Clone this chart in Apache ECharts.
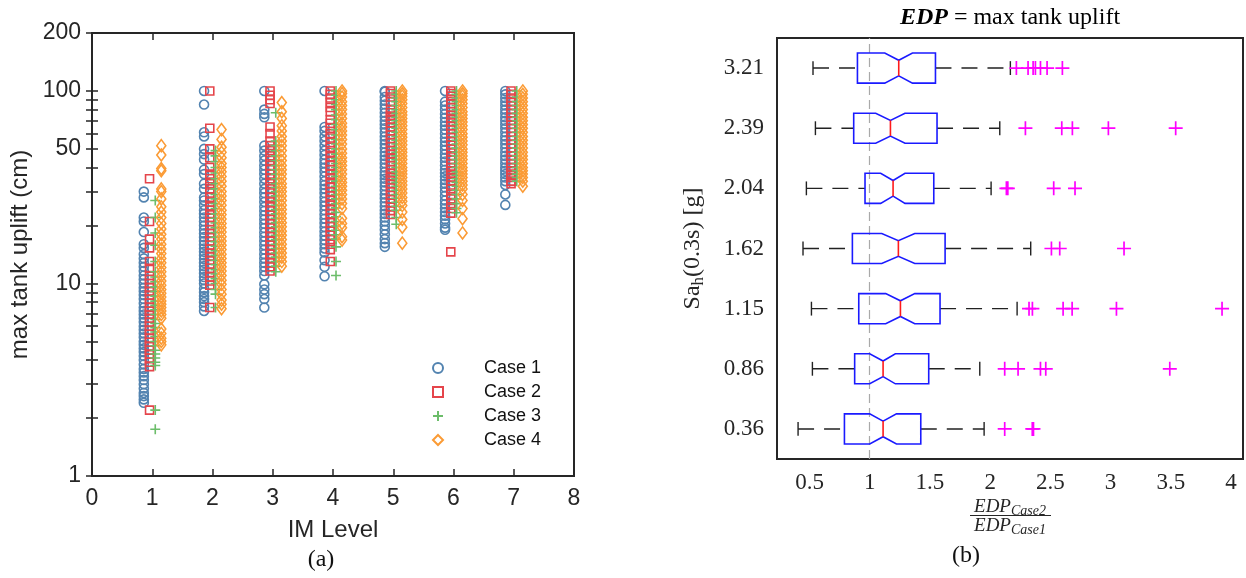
<!DOCTYPE html>
<html>
<head>
<meta charset="utf-8">
<script src="https://cdn.jsdelivr.net/npm/echarts@6/dist/echarts.min.js"></script>
<style>
  html, body { margin: 0; padding: 0; background: #fff; }
  #chart { width: 1246px; height: 578px; }
</style>
</head>
<body>
<div id="chart"></div>
<script>
// ---------- (a) max tank uplift (cm), one inner list per IM level 1..7 ----------
const imLevels = [1, 2, 3, 4, 5, 6, 7];
const imTicks = [0, 1, 2, 3, 4, 5, 6, 7, 8];
const upliftLabels = [1, 10, 50, 100, 200];
const upliftMinorTicks = [1, 2, 3, 4, 5, 6, 7, 8, 9, 10, 20, 30, 40, 50, 60, 70, 80, 90, 100, 200];
const caseNames = ['Case 1', 'Case 2', 'Case 3', 'Case 4'];

const case1 = [
  [30, 28, 22, 21, 18.5, 16, 15.3, 14.2, 13.5, 12.8, 12.2, 11.6, 11, 10.5, 10, 9.5, 9.1, 8.7, 8.3, 7.9, 7.5, 7.2, 6.9, 6.6, 6.3, 6.0, 5.75, 5.5, 5.25, 5.0, 4.8, 4.6, 4.4, 4.2, 4.0, 3.8, 3.6, 3.45, 3.3, 3.15, 3.0, 2.85, 2.7, 2.6, 2.5, 2.4],
  [100, 85, 61, 58, 50, 47, 44, 39, 37, 33, 31, 28, 27, 25.5, 24, 23, 22, 21, 20, 19, 18.2, 17.4, 16.6, 15.9, 15.2, 14.6, 14, 13.4, 12.8, 12.3, 11.8, 11.3, 10.8, 10.4, 10, 9.4, 9, 8.6, 8.3, 8.0, 7.6, 7.2],
  [100, 80, 76, 73, 52, 49, 46, 43.5, 41, 39, 37, 35, 33, 31, 29.5, 28, 26.5, 25, 23.8, 22.6, 21.5, 20.4, 19.4, 18.4, 17.5, 16.6, 15.8, 15, 14.2, 13.5, 12.8, 12.2, 11.6, 11, 9.9, 9.3, 8.8, 8.3, 7.5],
  [100, 65, 62, 58, 55, 52, 49, 46.5, 44, 42, 40, 38, 36, 34, 32.5, 31, 29.5, 28, 26.6, 25.3, 24, 22.8, 21.7, 20.6, 19.6, 18.6, 17.7, 16.8, 16, 15.2, 14.5, 13.2, 12.2, 10.9],
  [100, 99, 93, 89, 85, 81, 77, 73.5, 70, 67, 64, 61, 58, 55.5, 53, 50.5, 48, 46, 44, 42, 40, 38, 36.5, 35, 33.5, 32, 30.5, 29, 27.7, 26.4, 25.2, 24, 23, 22, 21, 20, 19, 18, 17, 16.2, 15.5],
  [100, 88, 84, 80, 76, 72.5, 69, 66, 63, 60, 57, 54.5, 52, 49.5, 47, 45, 43, 41, 39, 37.5, 36, 34.5, 33, 31.5, 30, 28.5, 27, 25.8, 24.6, 23.5, 22.5, 21.5, 20.5, 19.5, 19],
  [100, 96, 92, 88, 84, 80, 76.5, 73, 70, 67, 64, 61, 58, 55.5, 53, 50.5, 48, 46, 44, 42, 40, 38.5, 37, 35.5, 34, 32.5, 29, 25.6]
];
const case2 = [
  [35, 21, 17, 15.3, 13, 12, 11, 10.5, 10, 9.5, 9.1, 8.7, 8.3, 7.9, 7.5, 7.2, 6.9, 6.6, 6.3, 6.0, 5.7, 5.45, 5.2, 4.95, 4.7, 4.5, 4.3, 4.1, 3.9, 3.7, 2.2],
  [100, 64, 50, 45, 40, 37, 35, 33, 31, 29.5, 28, 26.5, 25, 24, 23, 22, 21, 20, 19, 18.2, 17.4, 16.6, 15.8, 15.1, 14.4, 13.8, 13.2, 12.6, 12, 11.4, 10.8, 10.3, 9.8, 7.5],
  [100, 95, 90, 86, 65, 60, 55, 52, 49, 46, 43.5, 41, 39, 37, 35, 33, 31, 29.5, 28, 26.5, 25, 23.8, 22.6, 21.5, 20.4, 19.4, 18.4, 17.5, 16.6, 15.8, 15, 14.2, 13.5, 12.8, 12.2, 11.6],
  [100, 96, 92, 87, 82, 78, 71, 68, 64, 60, 57, 54, 51, 48, 45.5, 43, 41, 39, 37, 35, 33, 31.5, 30, 28.5, 27, 25.5, 24.2, 23, 21.8, 20.7, 19.7, 18.7, 17.8, 16.9, 16, 15, 13],
  [100, 97, 93, 88, 80, 77, 74, 71, 68, 65, 62, 59, 56.5, 54, 51.5, 49, 47, 45, 43, 41, 39, 37.5, 36, 34.5, 33, 31.5, 30, 28.7, 27.4, 26.2, 25, 23.9, 22.8],
  [100, 97, 94, 90, 86, 82, 78, 75, 72, 69, 66, 63, 60, 57.5, 55, 52.5, 50, 48, 46, 44, 42, 40, 38.5, 37, 35.5, 34, 32.5, 31, 29, 27.5, 26, 24.5, 23.2, 14.6],
  [100, 96, 92, 88, 84, 80, 76.5, 73, 70, 67, 64, 61, 58, 55.5, 53, 50.5, 48, 46, 44, 42, 40, 38.5, 37, 35.5, 34, 33]
];
const case3 = [
  [27, 22, 18.3, 15.8, 13, 11.5, 10.8, 10.2, 9.6, 9.1, 8.6, 8.1, 7.7, 7.3, 6.9, 6.5, 6.2, 5.9, 5.6, 5.3, 5.0, 4.75, 4.5, 4.3, 4.1, 3.9, 3.75, 2.2, 1.75],
  [49, 46, 43, 40, 37.5, 35, 33, 31, 29, 27.5, 26, 24.5, 23, 21.8, 20.6, 19.5, 18.4, 17.4, 16.5, 15.6, 14.8, 14, 13.2, 12.5, 11.8, 11.2, 10.6, 10, 9.3, 8.8, 7.5],
  [77, 55, 52, 49, 46, 43.5, 41, 39, 37, 35, 33, 31.5, 30, 28.5, 27, 25.5, 24.2, 23, 21.8, 20.7, 19.7, 18.7, 17.8, 16.9, 16, 15.2, 14.4, 13.7, 13, 12.3, 11.5],
  [100, 95, 90, 85, 80, 75, 71, 67, 63, 59, 56, 53, 50, 47, 44.5, 42, 40, 38, 36, 34, 32, 30.5, 29, 27.5, 26, 24.7, 23.4, 22.2, 21, 19.9, 18.9, 17.9, 17, 15.5, 13, 11],
  [100, 96, 92, 88, 84, 80, 76.5, 73, 70, 67, 64, 61, 58, 55.5, 53, 50.5, 48, 46, 44, 42, 40, 38, 36.5, 35, 33.5, 32, 30.5, 29, 27.7, 26.4, 25.2, 24, 22, 20.3],
  [100, 96, 92, 88, 84, 80, 76.5, 73, 70, 67, 64, 61, 58, 55.5, 53, 50.5, 48, 46, 44, 42, 40, 38, 36.5, 35, 33.5, 32, 30.5, 29, 27.5, 26, 24.5, 23.3],
  [100, 93, 88, 84, 80, 76.5, 73, 70, 67, 64, 61, 58, 55.5, 53, 50.5, 48, 46, 44, 42, 40, 38.5, 37, 35.5, 34]
];
const case4 = [
  [52, 46.5, 39.5, 38.5, 31, 30, 27.5, 25, 23.5, 22, 20.5, 19.2, 18, 17, 16, 15.1, 14.3, 13.5, 12.8, 12.1, 11.5, 10.9, 10.3, 9.8, 9.3, 8.9, 8.5, 8.1, 7.8, 7.5, 7.2, 6.9, 6.6, 5.8, 5.5, 5.2, 5.0, 4.8],
  [63, 56, 51, 48, 45, 42, 40, 38, 36, 34, 32, 30, 28.5, 27, 25.5, 24, 22.8, 21.6, 20.5, 19.5, 18.5, 17.5, 16.6, 15.8, 15, 14.2, 13.5, 12.8, 12.2, 11.6, 11, 10.4, 9.9, 9.3, 8.8, 8.2, 7.8, 7.4],
  [87, 78, 72, 66, 62, 58, 55, 52, 49, 46, 43.5, 41, 39, 37, 35, 33, 31.5, 30, 28.5, 27, 25.5, 24.2, 23, 21.8, 20.7, 19.7, 18.7, 17.8, 16.9, 16, 15.2, 14.4, 13.7, 13, 12.3],
  [100, 97, 93, 88, 84, 80, 76, 72, 68, 65, 62, 59, 56, 53, 50, 47.5, 45, 43, 41, 39, 37, 35, 33.5, 32, 30.5, 29, 27.5, 26, 24.5, 21.8, 20.5, 19.5, 17.5, 16.8],
  [100, 97, 94, 90, 86, 82, 78, 75, 72, 69, 66, 63, 60, 57.5, 55, 52.5, 50, 48, 46, 44, 42, 40, 38.5, 37, 35.5, 34, 32.5, 31, 29.5, 28, 26.7, 25.4, 23.5, 21.5, 19.6, 16.2],
  [100, 97, 94, 90, 86, 82, 78, 75, 72, 69, 66, 63, 60, 57.5, 55, 52.5, 50, 48, 46, 44, 42, 40, 38.5, 37, 35.5, 34, 32.5, 31, 29, 27, 24.5, 21.7, 18.3],
  [100, 96, 92, 88, 84, 80, 76.5, 73, 70, 67, 64, 61, 58, 55.5, 53, 50.5, 48, 46, 44, 42, 40, 38.5, 37, 35.5, 34, 32]
];

// ---------- (b) EDP ratio Case2 / Case1 per Sa_h(0.3s) level (bottom to top) ----------
const saLevels = ['0.36', '0.86', '1.15', '1.62', '2.04', '2.39', '3.21'];
const ratioTicks = [0.5, 1, 1.5, 2, 2.5, 3, 3.5, 4];
const whiskerLow  = [0.405, 0.524, 0.516, 0.446, 0.474, 0.549, 0.529];
const quartile1   = [0.790, 0.875, 0.909, 0.856, 0.961, 0.867, 0.898];
const notchLow    = [1.000, 1.000, 1.133, 1.100, 1.091, 1.050, 1.125];
const medians     = [1.111, 1.111, 1.255, 1.238, 1.194, 1.172, 1.241];
const notchHigh   = [1.222, 1.213, 1.374, 1.374, 1.293, 1.293, 1.355];
const quartile3   = [1.424, 1.490, 1.584, 1.626, 1.532, 1.559, 1.546];
const whiskerHigh = [1.950, 1.914, 2.224, 2.337, 2.008, 2.080, 2.168];
const outliers = [
  [2.121, 2.350, 2.360],
  [2.121, 2.232, 2.418, 2.462, 3.492],
  [2.323, 2.351, 2.606, 2.681, 3.049, 3.926],
  [2.509, 2.578, 3.112],
  [2.135, 2.147, 2.528, 2.705],
  [2.293, 2.595, 2.683, 2.982, 3.541],
  [2.218, 2.315, 2.357, 2.376, 2.418, 2.473, 2.600]
];

// ---------- styling ----------
const INK = '#262626';
const SANS = 'Liberation Sans';
const SERIF = 'Liberation Serif';
const caseColors = ['#5283b0', '#e5454b', '#6cbd6a', '#fb9b35'];
const caseOffsets = [-0.14, -0.045, 0.05, 0.15];
const PLUS = 'path://M5,0L5,10M0,5L10,5';
const caseSymbols = ['circle', 'rect', PLUS, 'diamond'];
const caseSizes = [9, 8, 10, [9, 12]];

function levelPoints(rows, offset) {
  const pts = [];
  rows.forEach((vals, i) => vals.forEach(v => pts.push([imLevels[i] + offset, v])));
  return pts;
}

const scatterSeries = [case1, case2, case3, case4].map((rows, k) => ({
  name: caseNames[k],
  type: 'scatter',
  xAxisIndex: 0,
  yAxisIndex: 0,
  symbol: caseSymbols[k],
  symbolSize: caseSizes[k],
  itemStyle: { color: 'rgba(0,0,0,0)', borderColor: caseColors[k], borderWidth: 1.6, opacity: 1 },
  emphasis: { disabled: true },
  data: levelPoints(rows, caseOffsets[k]),
  z: 3 + k
}));

const boxData = saLevels.map((s, i) => [i, whiskerLow[i], quartile1[i], notchLow[i], medians[i], notchHigh[i], quartile3[i], whiskerHigh[i]]);
const outlierData = [];
outliers.forEach((vals, i) => vals.forEach(v => outlierData.push([v, i])));

function renderBox(params, api) {
  const cat = api.value(0);
  const y = api.coord([0, cat])[1];
  const px = v => api.coord([v, cat])[0];
  const band = api.size([0, 1])[1];
  const h = band * 0.25, hn = band * 0.13, hc = band * 0.115;
  const wlo = px(api.value(1)), q1 = px(api.value(2)), nlo = px(api.value(3));
  const med = px(api.value(4)), nhi = px(api.value(5)), q3 = px(api.value(6)), whi = px(api.value(7));
  const blue = { stroke: '#1a1aff', lineWidth: 1.6, fill: null };
  const dash = { stroke: '#222', lineWidth: 1.4, lineDash: [16, 10] };
  const solid = { stroke: '#222', lineWidth: 1.4 };
  return {
    type: 'group',
    children: [
      { type: 'line', shape: { x1: wlo, y1: y, x2: q1, y2: y }, style: dash },
      { type: 'line', shape: { x1: q3, y1: y, x2: whi, y2: y }, style: dash },
      { type: 'line', shape: { x1: wlo, y1: y - hc, x2: wlo, y2: y + hc }, style: solid },
      { type: 'line', shape: { x1: whi, y1: y - hc, x2: whi, y2: y + hc }, style: solid },
      {
        type: 'polygon',
        shape: { points: [[q1, y - h], [nlo, y - h], [med, y - hn], [nhi, y - h], [q3, y - h],
                          [q3, y + h], [nhi, y + h], [med, y + hn], [nlo, y + h], [q1, y + h]] },
        style: blue
      },
      { type: 'line', shape: { x1: med, y1: y - hn, x2: med, y2: y + hn }, style: { stroke: '#ff1a1a', lineWidth: 1.6 } }
    ]
  };
}

const tickLabelSans = { fontFamily: SANS, fontSize: 23, color: INK };
const tickLabelSerif = { fontFamily: SERIF, fontSize: 23, color: INK };

const option = {
  animation: false,
  backgroundColor: '#fff',
  grid: [
    { left: 92, top: 33, width: 482, height: 443, show: true, borderColor: INK, borderWidth: 2, backgroundColor: 'transparent' },
    { left: 777, top: 38, width: 466, height: 421, show: true, borderColor: INK, borderWidth: 2, backgroundColor: 'transparent' }
  ],
  legend: {
    data: caseNames,
    orient: 'vertical',
    left: 427,
    top: 354,
    itemWidth: 10,
    itemHeight: 10,
    itemGap: 6,
    textStyle: { fontFamily: SANS, fontSize: 18, color: '#111', padding: [0, 0, 0, 36] },
    selectedMode: false
  },
  xAxis: [
    {
      gridIndex: 0, type: 'value', min: 0, max: 8, interval: 1, position: 'bottom',
      axisLine: { show: false }, splitLine: { show: false },
      axisTick: { inside: true, length: 7, lineStyle: { color: INK, width: 1.5 } },
      axisLabel: Object.assign({ margin: 11 }, tickLabelSans),
      name: 'IM Level', nameLocation: 'middle', nameGap: 42,
      nameTextStyle: { fontFamily: SANS, fontSize: 24, color: INK }
    },
    {
      gridIndex: 0, type: 'value', min: 0, max: 8, interval: 1, position: 'top',
      axisLine: { show: false }, splitLine: { show: false }, axisLabel: { show: false },
      axisTick: { inside: true, length: 7, lineStyle: { color: INK, width: 1.5 } }
    },
    {
      gridIndex: 1, type: 'value', min: 0.23, max: 4.1, position: 'bottom',
      axisLine: { show: false }, splitLine: { show: false },
      axisTick: { inside: true, length: 7, customValues: ratioTicks, lineStyle: { color: INK, width: 1.5 } },
      axisLabel: Object.assign({ margin: 12, customValues: ratioTicks }, tickLabelSerif)
    },
    {
      gridIndex: 1, type: 'value', min: 0.23, max: 4.1, position: 'top',
      axisLine: { show: false }, splitLine: { show: false }, axisLabel: { show: false },
      axisTick: { inside: true, length: 7, customValues: ratioTicks, lineStyle: { color: INK, width: 1.5 } }
    }
  ],
  yAxis: [
    {
      gridIndex: 0, type: 'log', logBase: 10, min: 1, max: 200, position: 'left',
      axisLine: { show: false }, splitLine: { show: false }, minorSplitLine: { show: false },
      axisTick: { inside: true, length: 6, customValues: upliftMinorTicks, lineStyle: { color: INK, width: 1.5 } },
      axisLabel: Object.assign({ margin: 11, customValues: upliftLabels }, tickLabelSans),
      name: 'max tank uplift (cm)', nameLocation: 'middle', nameGap: 60, nameRotate: 90,
      nameTextStyle: { fontFamily: SANS, fontSize: 24, color: INK }
    },
    {
      gridIndex: 0, type: 'log', logBase: 10, min: 1, max: 200, position: 'right',
      axisLine: { show: false }, splitLine: { show: false }, axisLabel: { show: false },
      axisTick: { inside: true, length: 6, customValues: upliftMinorTicks, lineStyle: { color: INK, width: 1.5 } }
    },
    {
      gridIndex: 1, type: 'category', data: saLevels, position: 'left',
      axisLine: { show: false }, splitLine: { show: false },
      axisTick: { inside: true, alignWithLabel: true, length: 7, lineStyle: { color: INK, width: 1.5 } },
      axisLabel: Object.assign({ margin: 13 }, tickLabelSerif),
      name: '{m|Sa}{s|h}{m|(0.3s) [g]}', nameLocation: 'middle', nameGap: 70, nameRotate: 90,
      nameTextStyle: {
        fontFamily: SERIF, fontSize: 24, color: INK,
        rich: {
          m: { fontFamily: SERIF, fontSize: 24, color: INK },
          s: { fontFamily: SERIF, fontSize: 17, color: INK, padding: [12, 0, 0, 0] }
        }
      }
    },
    {
      gridIndex: 1, type: 'category', data: saLevels, position: 'right',
      axisLine: { show: false }, splitLine: { show: false }, axisLabel: { show: false },
      axisTick: { inside: true, alignWithLabel: true, length: 7, lineStyle: { color: INK, width: 1.5 } }
    }
  ],
  series: scatterSeries.concat([
    {
      type: 'custom',
      xAxisIndex: 2,
      yAxisIndex: 2,
      renderItem: renderBox,
      encode: { x: [1, 2, 3, 4, 5, 6, 7], y: 0 },
      data: boxData,
      z: 4
    },
    {
      type: 'scatter',
      xAxisIndex: 2,
      yAxisIndex: 2,
      symbol: PLUS,
      symbolSize: 14,
      itemStyle: { color: 'rgba(0,0,0,0)', borderColor: '#ff00ff', borderWidth: 1.7, opacity: 1 },
      emphasis: { disabled: true },
      data: outlierData,
      z: 5,
      markLine: {
        silent: true,
        symbol: 'none',
        label: { show: false },
        lineStyle: { color: '#a9a9a9', type: [9, 5], width: 1.2 },
        data: [{ xAxis: 1 }],
        z: 3
      }
    }
  ]),
  graphic: [
    {
      type: 'text', x: 1010, y: 18,
      style: {
        text: '{b|EDP}{r| = max tank uplift}',
        align: 'center', verticalAlign: 'middle',
        rich: {
          b: { fontFamily: SERIF, fontSize: 24, fontWeight: 'bold', fontStyle: 'italic', fill: '#000' },
          r: { fontFamily: SERIF, fontSize: 24, fill: '#000' }
        }
      }
    },
    {
      type: 'text', x: 1010, y: 507,
      style: {
        text: '{e|EDP}{s|Case2}',
        align: 'center', verticalAlign: 'middle',
        rich: {
          e: { fontFamily: SERIF, fontSize: 19, fontStyle: 'italic', fill: INK },
          s: { fontFamily: SERIF, fontSize: 14, fontStyle: 'italic', fill: INK, padding: [9, 0, 0, 0] }
        }
      }
    },
    { type: 'line', shape: { x1: 970, y1: 515.5, x2: 1051, y2: 515.5 }, style: { stroke: INK, lineWidth: 1.2 } },
    {
      type: 'text', x: 1010, y: 526,
      style: {
        text: '{e|EDP}{s|Case1}',
        align: 'center', verticalAlign: 'middle',
        rich: {
          e: { fontFamily: SERIF, fontSize: 19, fontStyle: 'italic', fill: INK },
          s: { fontFamily: SERIF, fontSize: 14, fontStyle: 'italic', fill: INK, padding: [9, 0, 0, 0] }
        }
      }
    },
    { type: 'text', x: 321, y: 560, style: { text: '(a)', font: '24px "Liberation Serif"', fill: '#111', align: 'center', verticalAlign: 'middle' } },
    { type: 'text', x: 966, y: 556, style: { text: '(b)', font: '24px "Liberation Serif"', fill: '#111', align: 'center', verticalAlign: 'middle' } }
  ]
};

const chart = echarts.init(document.getElementById('chart'), null, { renderer: 'canvas' });
chart.setOption(option);
</script>
</body>
</html>
